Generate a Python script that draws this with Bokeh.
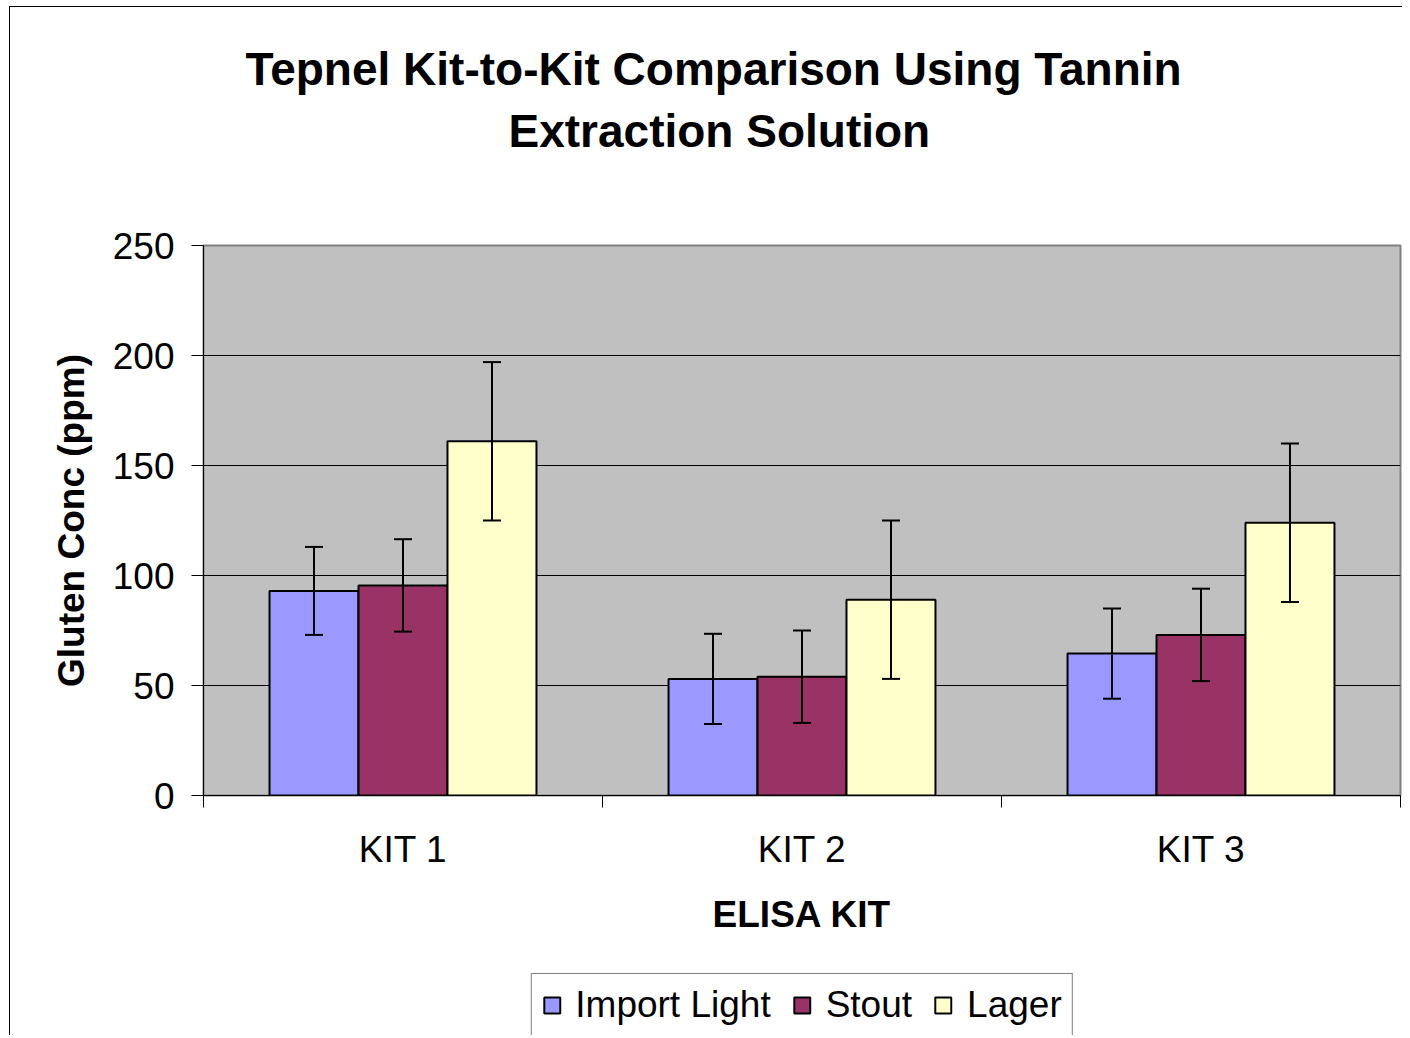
from bokeh.plotting import figure
from bokeh.models import (ColumnDataSource, Range1d, FixedTicker, Whisker, TeeHead,
                          Legend, LegendItem, Title)
from bokeh.embed import file_html
from bokeh.resources import INLINE

# ---- data ----
kits = ["KIT 1", "KIT 2", "KIT 3"]
import_light = [93, 53, 64.5]
stout = [95.5, 54, 73]
lager = [161, 89, 124]
import_light_err = [20, 20.5, 20.5]
stout_err = [21, 21, 21]
lager_err = [36, 36, 36]
title_lines = ["Tepnel Kit-to-Kit Comparison Using Tannin", "Extraction Solution"]

series = [
    ("Import Light", import_light, import_light_err, "#9999FF", -0.223),
    ("Stout", stout, stout_err, "#993366", 0.0),
    ("Lager", lager, lager_err, "#FFFFCC", 0.223),
]

FONT = "Liberation Sans"

p = figure(
    frame_width=1197, frame_height=550,
    x_range=Range1d(0, 3), y_range=Range1d(0, 250),
    title_location=None, toolbar_location=None, output_backend="svg",
    min_border_left=193, min_border_right=2, min_border_top=238, min_border_bottom=0,
    background_fill_color="#C0C0C0", border_fill_color="white",
)
# chart-area border (left/top visible in the reference); clip anything below the window
p.styles = {"margin-left": "9px", "margin-top": "6px",
            "border-left": "1px solid black", "border-top": "1px solid black",
            "height": "1029px", "overflow": "hidden"}
p.outline_line_color = "#808080"
p.outline_line_width = 2

# title: two lines centred on the whole chart (not the frame), so left-aligned with offsets
t2 = Title(text=title_lines[1], align="left", offset=305, standoff=178,
           text_font=FONT, text_font_size="46px", text_font_style="bold", text_color="black")
t1 = Title(text=title_lines[0], align="left", offset=42, standoff=-162,
           text_font=FONT, text_font_size="46px", text_font_style="bold", text_color="black")
p.add_layout(t2, "above")
p.add_layout(t1, "above")

# bars + error bars
items = []
for name, vals, errs, color, off in series:
    xs = [i + 0.5 + off for i in range(len(kits))]
    src = ColumnDataSource(dict(
        x=xs, top=vals,
        upper=[v + e for v, e in zip(vals, errs)],
        lower=[v - e for v, e in zip(vals, errs)],
    ))
    r = p.vbar(x="x", top="top", bottom=0, width=0.223, source=src,
               fill_color=color, line_color="black", line_width=2)
    items.append(LegendItem(label=name, renderers=[r]))
    w = Whisker(source=src, base="x", upper="upper", lower="lower", level="overlay",
                line_color="black", line_width=2,
                upper_head=TeeHead(size=18, line_color="black", line_width=2),
                lower_head=TeeHead(size=18, line_color="black", line_width=2))
    p.add_layout(w)

# y axis
p.yaxis.ticker = FixedTicker(ticks=[0, 50, 100, 150, 200, 250])
p.yaxis.minor_tick_line_color = None
p.yaxis.major_tick_out = 12
p.yaxis.major_tick_in = 0
p.yaxis.major_tick_line_color = "black"
p.yaxis.axis_line_color = "black"
p.yaxis.major_label_text_font = FONT
p.yaxis.major_label_text_font_size = "37px"
p.yaxis.major_label_text_color = "black"
p.yaxis.major_label_standoff = 17
p.yaxis.axis_label = "Gluten Conc (ppm)"
p.yaxis.axis_label_text_font = FONT
p.yaxis.axis_label_text_font_size = "37px"
p.yaxis.axis_label_text_font_style = "bold"
p.yaxis.axis_label_text_color = "black"
p.yaxis.axis_label_standoff = 18

# x axis: labels at group centres, ticks at group boundaries
p.xaxis.ticker = FixedTicker(ticks=[i + 0.5 for i in range(len(kits))],
                             minor_ticks=list(range(len(kits) + 1)))
p.xaxis.major_label_overrides = {i + 0.5: k for i, k in enumerate(kits)}
p.xaxis.major_tick_line_color = None
p.xaxis.major_tick_out = 12
p.xaxis.minor_tick_line_color = "black"
p.xaxis.minor_tick_out = 12
p.xaxis.minor_tick_in = 0
p.xaxis.axis_line_color = "black"
p.xaxis.major_label_text_font = FONT
p.xaxis.major_label_text_font_size = "37px"
p.xaxis.major_label_text_color = "black"
p.xaxis.major_label_standoff = 21
p.xaxis.axis_label = "ELISA KIT"
p.xaxis.axis_label_text_font = FONT
p.xaxis.axis_label_text_font_size = "37px"
p.xaxis.axis_label_text_font_style = "bold"
p.xaxis.axis_label_text_color = "black"
p.xaxis.axis_label_standoff = 21

p.xgrid.grid_line_color = None
p.ygrid.ticker = FixedTicker(ticks=[50, 100, 150, 200])
p.ygrid.grid_line_color = "black"
p.ygrid.grid_line_width = 1

# legend below the axis title, pinned to the top of its panel
legend = Legend(items=items, orientation="horizontal", location="top_center",
                label_text_font=FONT, label_text_font_size="37px", label_text_color="black",
                glyph_width=20, glyph_height=20, label_standoff=14, spacing=21,
                padding=10, margin=18, border_line_color="black", border_line_width=1.5,
                background_fill_color="white")
p.add_layout(legend, "below")

open("out.html", "w").write(file_html(p, INLINE))
